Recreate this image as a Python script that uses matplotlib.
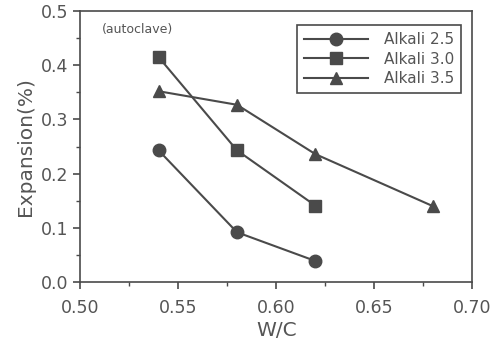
import numpy as np
import matplotlib.pyplot as plt

# data
wc_25 = [0.54, 0.58, 0.62]
exp_25 = [0.243, 0.092, 0.039]
wc_30 = [0.54, 0.58, 0.62]
exp_30 = [0.415, 0.243, 0.141]
wc_35 = [0.54, 0.58, 0.62, 0.68]
exp_35 = [0.352, 0.327, 0.236, 0.140]

plt.rcParams['font.family'] = ['DejaVu Sans']
ink = '#4a4a4a'
txt = '#555555'

fig = plt.figure(figsize=(5.04, 3.42), dpi=100)
ax = fig.add_axes([0.159, 0.175, 0.778, 0.793])

ax.plot(wc_25, exp_25, '-o', color=ink, lw=1.5, ms=9, label='Alkali 2.5')
ax.plot(wc_30, exp_30, '-s', color=ink, lw=1.5, ms=9, label='Alkali 3.0')
ax.plot(wc_35, exp_35, '-^', color=ink, lw=1.5, ms=9, label='Alkali 3.5')

ax.set_xlim(0.50, 0.70)
ax.set_ylim(0.0, 0.5)
ax.set_xticks(np.arange(0.50, 0.701, 0.05))
ax.set_xticks(np.arange(0.525, 0.70, 0.05), minor=True)
ax.set_yticks(np.arange(0.0, 0.501, 0.1))
ax.set_yticks(np.arange(0.05, 0.5, 0.1), minor=True)
ax.set_xticklabels(['0.50', '0.55', '0.60', '0.65', '0.70'])
ax.set_yticklabels(['0.0', '0.1', '0.2', '0.3', '0.4', '0.5'])
ax.tick_params(which='both', direction='out', colors=ink, labelcolor=txt,
               labelsize=12.5, top=False, right=False)
ax.tick_params(which='major', length=5, width=1.2)
ax.tick_params(axis='x', which='major', pad=7)
ax.tick_params(which='minor', length=3, width=1)
for s in ax.spines.values():
    s.set_color(ink)
    s.set_linewidth(1.2)

ax.set_xlabel('W/C', fontsize=14.5, color=txt, labelpad=3)
ax.set_ylabel('Expansion(%)', fontsize=14.5, color=txt, labelpad=4)

ax.text(0.511, 0.466, '(autoclave)', fontsize=9, color=txt, va='center')

leg = ax.legend(loc='upper right', bbox_to_anchor=(0.99, 0.975), fontsize=11,
                fancybox=False, edgecolor=ink, framealpha=1, handlelength=4.2,
                handletextpad=1.0, labelspacing=0.3, borderpad=0.45)
leg.get_frame().set_linewidth(1.2)
for t in leg.get_texts():
    t.set_color(txt)

fig.savefig('out.png', dpi=100)
